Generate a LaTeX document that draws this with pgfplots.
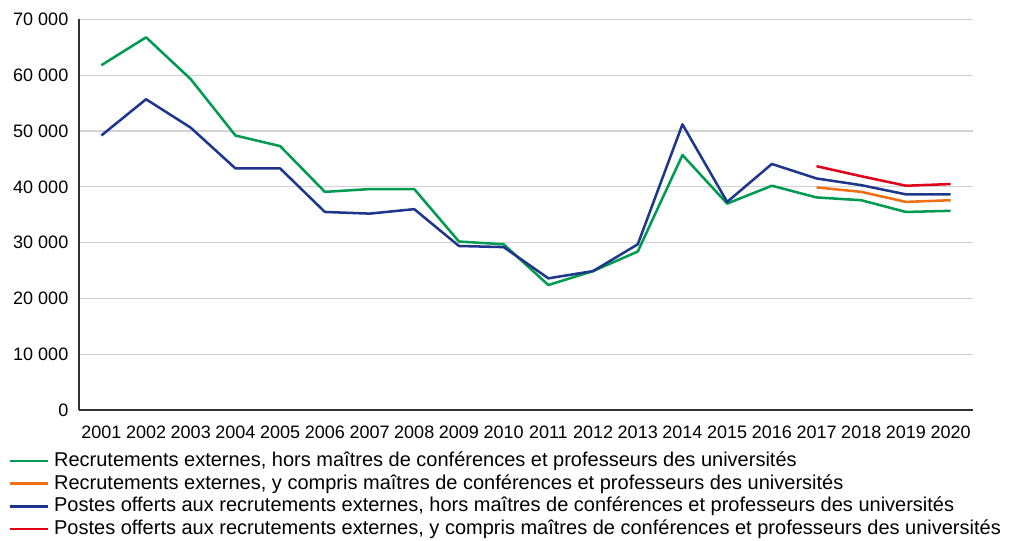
\documentclass[border=0pt]{standalone}
\usepackage{fontspec}
\setmainfont{Liberation Sans}
\usepackage{pgfplots}
\pgfplotsset{compat=1.18}
\definecolor{cgreen}{RGB}{0,155,80}
\definecolor{corange}{RGB}{240,110,20}
\definecolor{cblue}{RGB}{30,55,140}
\definecolor{cred}{RGB}{225,0,25}
\definecolor{cgrid}{RGB}{210,210,210}
\definecolor{caxis}{RGB}{50,50,50}
\begin{document}
\begin{tikzpicture}
\begin{axis}[
  scale only axis, width=670.5pt, height=292.9pt,
  xmin=2000.5, xmax=2020.5, ymin=0, ymax=70000,
  scaled y ticks=false,
  axis x line*=bottom, axis y line*=left,
  axis line style={-, caxis, line width=1.1pt},
  ymajorgrids, major grid style={cgrid, line width=0.9pt},
  major tick length=0pt,
  ytick={0,10000,20000,30000,40000,50000,60000,70000},
  yticklabels={0,10 000,20 000,30 000,40 000,50 000,60 000,70 000},
  xtick={2001,2002,2003,2004,2005,2006,2007,2008,2009,2010,2011,2012,2013,2014,2015,2016,2017,2018,2019,2020},
  xticklabels={2001,2002,2003,2004,2005,2006,2007,2008,2009,2010,2011,2012,2013,2014,2015,2016,2017,2018,2019,2020},
  tick label style={font=\fontsize{13.5}{15}\selectfont, text=black},
  xticklabel style={yshift=-8.5pt},
  yticklabel style={xshift=-4.5pt},
  legend style={at={(-0.0794,-0.106)}, anchor=north west, draw=none, fill=none,
    font=\fontsize{15}{17}\selectfont, inner sep=0pt, row sep=3pt,
    nodes={inner sep=0pt, text height=11pt, text depth=3pt}},
  legend cell align=left,
  legend image code/.code={\draw[#1, line width=1.9pt] (0pt,0pt) -- (28.5pt,0pt); \path (32.5pt,0pt);},
  clip=false,
]
\addplot[cgreen, line width=1.9pt, line join=round] coordinates {
(2001,61800) (2002,66800) (2003,59300) (2004,49200) (2005,47300) (2006,39100) (2007,39600) (2008,39600) (2009,30200) (2010,29700)
(2011,22400) (2012,24900) (2013,28400) (2014,45700) (2015,37000) (2016,40200) (2017,38100) (2018,37600) (2019,35500) (2020,35700)};
\addlegendentry{Recrutements externes, hors maîtres de conférences et professeurs des universités}
\addplot[corange, line width=1.9pt, line join=round] coordinates {
(2017,39900) (2018,39100) (2019,37300) (2020,37600)};
\addlegendentry{Recrutements externes, y compris maîtres de conférences et professeurs des universités}
\addplot[cblue, line width=1.9pt, line join=round] coordinates {
(2001,49200) (2002,55700) (2003,50600) (2004,43300) (2005,43300) (2006,35500) (2007,35200) (2008,36000) (2009,29400) (2010,29200)
(2011,23600) (2012,24900) (2013,29700) (2014,51200) (2015,37300) (2016,44100) (2017,41500) (2018,40300) (2019,38650) (2020,38650)};
\addlegendentry{Postes offerts aux recrutements externes, hors maîtres de conférences et professeurs des universités}
\addplot[cred, line width=1.9pt, line join=round] coordinates {
(2017,43700) (2018,41900) (2019,40200) (2020,40500)};
\addlegendentry{Postes offerts aux recrutements externes, y compris maîtres de conférences et professeurs des universités}
\end{axis}
\pgfresetboundingbox
\path (current axis.south west) ++(-59.25pt,-97.5pt) rectangle ++(759pt,405pt);
\end{tikzpicture}
\end{document}
